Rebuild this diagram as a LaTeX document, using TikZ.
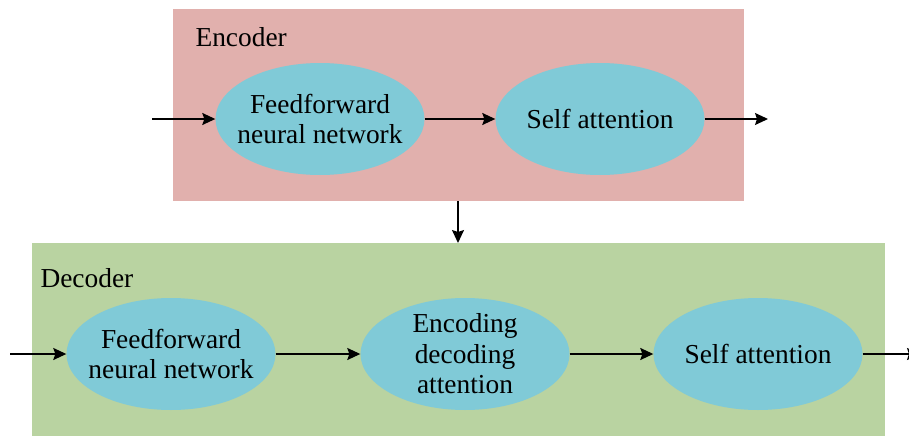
\documentclass[tikz,border=0pt]{standalone}
\usepackage{fontspec}
\setmainfont{Liberation Serif}
\usepackage{tikz}
\usetikzlibrary{positioning, shapes.geometric, arrows.meta}

\definecolor{encrosa}{HTML}{E1B0AD}
\definecolor{decverde}{HTML}{B9D3A1}
\definecolor{blocco}{HTML}{80CAD7}

\begin{document}
\begin{tikzpicture}[x=1pt, y=-1pt,
		font=\fontsize{27.4}{30.5}\selectfont,
		box/.style={rectangle, fill=#1, inner sep=0pt, anchor=north west},
		blocco/.style={ellipse, fill=blocco, minimum width=209pt, minimum height=112pt, inner sep=0pt,
			label={[align=center]center:#1}},
		freccia/.style={-{Stealth[length=13pt, width=12pt, inset=2pt]}, line width=1.5pt}]
	\useasboundingbox (0,0) rectangle (909,436);
	
	% Encoder
	\node[box=encrosa, minimum width=571pt, minimum height=192pt] (enc) at (173,9) {};
	\node[anchor=west] (enclab) at (192,37) {Encoder};
	\node[blocco={Feedforward\\neural network}] (encff) at (320,119) {};
	\node[blocco={Self attention}] (encsa) at (600,119) {};
	
	% Decoder
	\node[box=decverde, minimum width=853pt, minimum height=193pt] (dec) at (32,243) {};
	\node[anchor=west] (declab) at (37,278) {Decoder};
	\node[blocco={Feedforward\\neural network}] (decff) at (171,354) {};
	\node[blocco={Encoding\\decoding\\attention}] (decenc) at (465,354) {};
	\node[blocco={Self attention}] (decsa) at (758,354) {};
	
	% Ingressi e uscite
	\coordinate (encin) at (152,119);
	\coordinate (encout) at (768,119);
	\coordinate (decin) at (10,354);
	\coordinate (decout) at (920,354);
	
	% Connessioni
	\draw[freccia] (encin) -- (encff);
	\draw[freccia] (encff) -- (encsa);
	\draw[freccia] (encsa) -- (encout);
	\draw[freccia] (enc.south -| 458,0) -- (dec.north -| 458,0);
	\draw[freccia] (decin) -- (decff);
	\draw[freccia] (decff) -- (decenc);
	\draw[freccia] (decenc) -- (decsa);
	\draw[freccia] (decsa) -- (decout);
\end{tikzpicture}
\end{document}
